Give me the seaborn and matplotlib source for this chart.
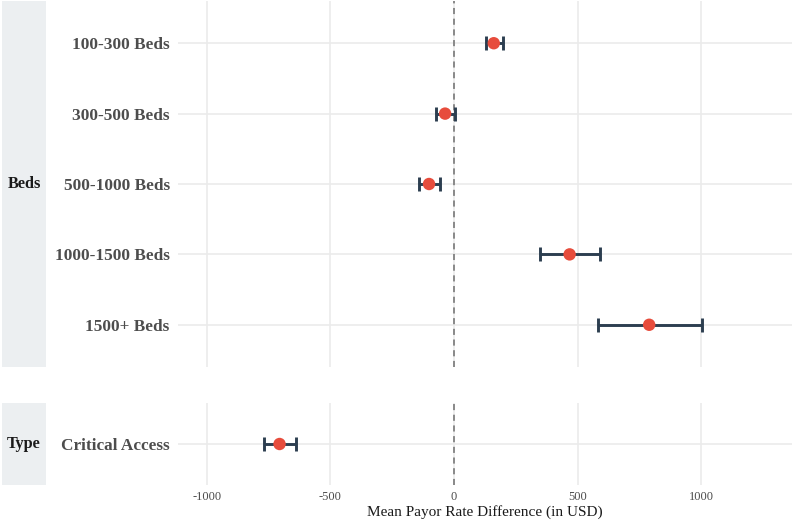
import matplotlib
matplotlib.use("Agg")
import matplotlib.pyplot as plt
import seaborn as sns
import pandas as pd
from matplotlib.patches import Rectangle

# values
beds_labels = ["100-300 Beds", "300-500 Beds", "500-1000 Beds", "1000-1500 Beds", "1500+ Beds"]
beds_mean = [161, -36, -101, 468, 790]
beds_low = [129, -73, -141, 347, 581]
beds_high = [198, 4, -56, 589, 1004]

type_labels = ["Critical Access"]
type_mean = [-706]
type_low = [-769]
type_high = [-641]

xticks = [-1000, -500, 0, 500, 1000]

sns.set_theme(style="white")
plt.rcParams["font.family"] = ["Liberation Serif", "DejaVu Serif"]

W, H = 792, 523
fig = plt.figure(figsize=(W / 100, H / 100), dpi=100)

def px_axes(left, top, right, bottom):
    return fig.add_axes([left / W, (H - bottom) / H, (right - left) / W, (bottom - top) / H])

ax1 = px_axes(178, 1, 792, 367)
ax2 = px_axes(178, 403, 792, 485)

panels = [
    (ax1, "Beds", beds_labels, beds_mean, beds_low, beds_high, (1, 367)),
    (ax2, "Type", type_labels, type_mean, type_low, type_high, (403, 485)),
]

for ax, name, labels, mean, low, high, (top, bot) in panels:
    df = pd.DataFrame({"label": labels, "mean": mean, "low": low, "high": high})
    pos = list(range(len(labels)))
    ax.set_facecolor("white")
    for y in pos:
        ax.axhline(y, color="#EBEBEB", lw=1.2, zorder=0)
    for x in xticks:
        ax.axvline(x, color="#EBEBEB", lw=1.2, zorder=0)
    ax.axvline(0, color="#6E6E6E", lw=1.1, ls=(0, (4, 3)), zorder=1)
    ax.errorbar(df["mean"], pos,
                xerr=[df["mean"] - df["low"], df["high"] - df["mean"]],
                fmt="none", ecolor="#2C3E50", elinewidth=2.1,
                capsize=4.8, capthick=2.1, zorder=2)
    sns.scatterplot(x=df["mean"], y=pos, color="#E74C3C", s=80,
                    edgecolor="none", ax=ax, zorder=3, legend=False)
    ax.set_yticks(pos)
    ax.set_yticklabels(labels, fontsize=12.4, fontweight="bold", color="#4D4D4D")
    ax.set_ylim(len(labels) - 1 + 0.6, -0.6)
    ax.set_xlim(-1117, 1368)
    ax.set_xticks(xticks)
    ax.tick_params(axis="both", length=0)
    ax.tick_params(axis="y", pad=6)
    ax.set_xlabel("")
    ax.set_ylabel("")
    ax.grid(False)
    for s in ax.spines.values():
        s.set_visible(False)
    # strip on the left
    fig.patches.append(Rectangle((2 / W, (H - bot) / H), 44 / W, (bot - top) / H,
                                 transform=fig.transFigure, facecolor="#ECEFF1",
                                 edgecolor="none", zorder=0))
    fig.text(24 / W, (H - (top + bot) / 2) / H, name, ha="center", va="center",
             fontsize=11.7, fontweight="bold", color="#1A1A1A")

ax1.set_xticklabels([])
ax2.set_xticklabels([str(x) for x in xticks], fontsize=9, color="#4D4D4D")
ax2.tick_params(axis="x", pad=4)
ax2.set_xlabel("Mean Payor Rate Difference (in USD)", fontsize=11, color="#1A1A1A", labelpad=2)

fig.savefig("out.png", dpi=100)
